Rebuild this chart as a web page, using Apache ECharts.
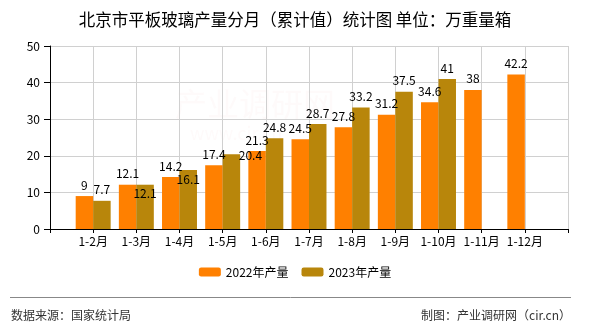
<!DOCTYPE html>
<html>
<head>
<meta charset="utf-8">
<script src="https://cdn.jsdelivr.net/npm/echarts@6/dist/echarts.min.js"></script>
<style>
  html, body { margin: 0; padding: 0; background: #fff; }
  #chart { width: 590px; height: 330px; }
</style>
</head>
<body>
<div id="chart"></div>
<script>
// Beijing flat glass output, cumulative by month (10k weight cases)
const categories = ['1-2月', '1-3月', '1-4月', '1-5月', '1-6月', '1-7月', '1-8月', '1-9月', '1-10月', '1-11月', '1-12月'];
const output2022 = [9, 12.1, 14.2, 17.4, 21.3, 24.5, 27.8, 31.2, 34.6, 38, 42.2];
const output2023 = [7.7, 12.1, 16.1, 20.4, 24.8, 28.7, 33.2, 37.5, 41];
const yTicks = [0, 10, 20, 30, 40, 50];

const FONT = '"Noto Sans CJK SC", "Noto Sans", sans-serif';
const COLOR_2022 = '#FF8000';
const COLOR_2023 = '#B8860B';

// nudged value labels that would otherwise collide with neighbours (by category index)
const labelNudge2023 = { 1: [0, 20], 2: [0, 20], 3: [19, 12] };

// padded category axis: an empty slot at each end so bars sit on the ticks
const axisCats = [''].concat(categories, ['']);

function toData(values, nudge) {
  const out = [null];
  values.forEach(function (v, i) {
    const item = { value: v };
    if (nudge && nudge[i]) {
      item.label = { offset: nudge[i] };
    }
    out.push(item);
  });
  return out;
}

const chart = echarts.init(document.getElementById('chart'), null, { renderer: 'canvas' });

const barLabel = {
  show: true,
  position: 'top',
  distance: 5,
  color: '#000',
  fontSize: 12,
  fontFamily: FONT
};

chart.setOption({
  animation: false,
  backgroundColor: '#fff',
  textStyle: { fontFamily: FONT },
  title: {
    text: '北京市平板玻璃产量分月（累计值）统计图 单位：万重量箱',
    left: 'center',
    top: 6,
    textStyle: { fontSize: 16.5, fontWeight: 'normal', color: '#000', fontFamily: FONT }
  },
  legend: {
    bottom: 47,
    left: 'center',
    itemWidth: 22,
    itemHeight: 9,
    itemGap: 13,
    textStyle: { fontSize: 12, color: '#000', fontFamily: FONT },
    data: ['2022年产量', '2023年产量']
  },
  grid: { left: 50, right: 22, top: 46, bottom: 101, containLabel: false },
  xAxis: {
    type: 'category',
    data: axisCats,
    boundaryGap: false,
    axisLine: { lineStyle: { color: '#000', width: 1 } },
    axisTick: { show: true, length: 4, lineStyle: { color: '#000' } },
    axisLabel: { interval: 0, fontSize: 12, color: '#000', margin: 6, fontFamily: FONT },
    splitLine: { show: true, lineStyle: { color: '#d0d0d0', width: 1 } }
  },
  yAxis: {
    type: 'value',
    min: yTicks[0],
    max: yTicks[yTicks.length - 1],
    interval: yTicks[1] - yTicks[0],
    axisLine: { show: true, lineStyle: { color: '#000', width: 1 } },
    axisTick: { show: true, length: 6, lineStyle: { color: '#000' } },
    axisLabel: { fontSize: 12, color: '#000', margin: 10, fontFamily: FONT },
    splitLine: { show: true, lineStyle: { color: '#d0d0d0', width: 1 } }
  },
  series: [
    {
      name: '2022年产量',
      type: 'bar',
      data: toData(output2022),
      barWidth: '40.5%',
      barGap: '0%',
      itemStyle: { color: COLOR_2022 },
      label: barLabel
    },
    {
      name: '2023年产量',
      type: 'bar',
      data: toData(output2023, labelNudge2023),
      barWidth: '40.5%',
      barGap: '0%',
      itemStyle: { color: COLOR_2023 },
      label: barLabel
    }
  ],
  graphic: [
    {
      type: 'text',
      left: 175,
      top: 88,
      silent: true,
      z: -1,
      style: { text: '产业调研网', font: '32px ' + FONT, fill: 'rgba(220,120,120,0.035)' }
    },
    {
      type: 'text',
      left: 190,
      top: 124,
      silent: true,
      z: -1,
      style: { text: 'www.cir.cn', font: '18px ' + FONT, fill: 'rgba(220,120,120,0.035)' }
    },
    {
      type: 'line',
      shape: { x1: 10, y1: 297.5, x2: 571, y2: 297.5 },
      style: { stroke: '#888', lineWidth: 1 }
    },
    {
      type: 'text',
      left: 11,
      top: 309,
      style: { text: '数据来源：国家统计局', font: '12px ' + FONT, fill: '#333' }
    },
    {
      type: 'text',
      right: 19,
      top: 309,
      style: { text: '制图：产业调研网（cir.cn）', font: '12px ' + FONT, fill: '#333' }
    }
  ]
});
</script>
</body>
</html>
